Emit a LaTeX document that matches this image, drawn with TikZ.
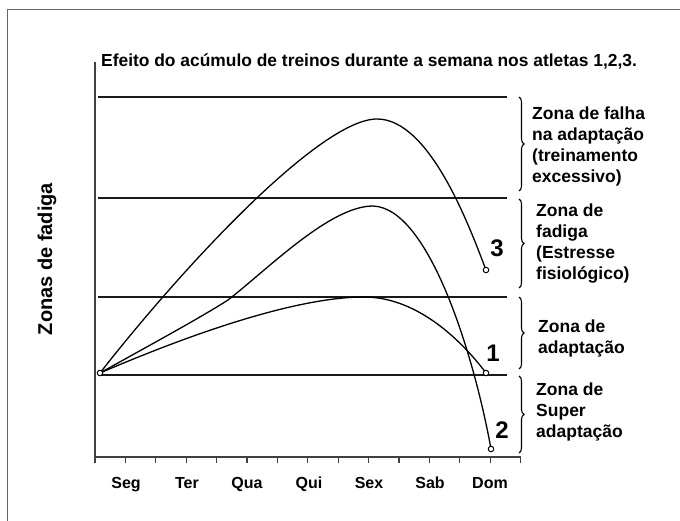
\documentclass[tikz,border=0pt]{standalone}
\usepackage{fontspec}
\setmainfont{Liberation Sans}
\usetikzlibrary{decorations.pathreplacing}
\begin{document}
\begin{tikzpicture}[x=1pt,y=-1pt,
  frameline/.style={line width=1pt, draw=black!60},
  zoneline/.style={line width=1.8pt, draw=black!90},
  axisline/.style={line width=2pt, draw=black!75},
  tickline/.style={line width=1.3pt, draw=black!75},
  curveline/.style={line width=1.3pt, draw=black},
  endpt/.style={circle, draw=black, fill=white, line width=1pt, inner sep=0pt, minimum size=5.5pt},
  zbrace/.style={decorate, decoration={brace, amplitude=5pt}, line width=1.1pt},
  zonetxt/.style={anchor=north west, align=left, inner sep=0pt, font=\fontsize{17.5}{21}\selectfont\bfseries},
  daylbl/.style={anchor=base, inner sep=0pt, font=\fontsize{16}{18}\selectfont\bfseries},
  numlbl/.style={anchor=base, inner sep=0pt, font=\fontsize{24}{26}\selectfont\bfseries},
  titletxt/.style={anchor=base west, inner sep=0pt, font=\fontsize{17.4}{20}\selectfont\bfseries},
  ylbl/.style={anchor=base, rotate=90, inner sep=0pt, font=\fontsize{20}{22}\selectfont\bfseries}
]
\useasboundingbox (0,0) rectangle (680,521);
\fill[white] (0,0) rectangle (680,521);
% frame (top and left only)
\draw[frameline] (7.5,521) -- (7.5,9.5) -- (680,9.5);

% axes
\coordinate (ytop) at (95,62);
\coordinate (orig) at (95,457);
\coordinate (xend) at (521,457);
\draw[axisline] (ytop) -- (95,463);
\draw[axisline] (orig) -- (xend);
\foreach \i in {0,...,14} {
  \draw[tickline] ({95+30.4*\i},457) -- ({95+30.4*\i},463);
}

% zone lines
\coordinate (l1a) at (98,97);  \coordinate (l1b) at (507,97);
\coordinate (l2a) at (98,198); \coordinate (l2b) at (507,198);
\coordinate (l3a) at (98,297); \coordinate (l3b) at (507,297);
\coordinate (l4a) at (98,375); \coordinate (l4b) at (507,375);
\draw[zoneline] (l1a) -- (l1b);
\draw[zoneline] (l2a) -- (l2b);
\draw[zoneline] (l3a) -- (l3b);
\draw[zoneline] (l4a) -- (l4b);

% title
\node[titletxt] (title) at (101,67) {Efeito do acúmulo de treinos durante a semana nos atletas 1,2,3.};

% y label
\node[ylbl] (ylab) at (52,259) {Zonas de fadiga};

% curves
\coordinate (s) at (100,373);
\coordinate (p3) at (377,119);
\coordinate (e3) at (486,270);
\coordinate (k2) at (228,300);
\coordinate (p2) at (373,206);
\coordinate (e2) at (491,449);
\coordinate (p1) at (364,297);
\coordinate (e1) at (486,373);

\draw[curveline] (s) .. controls (182,268) and (320,119) .. (p3)
                     .. controls (430,119) and (470,228) .. (e3);
\draw[curveline] (s) .. controls (150,345) and (200,318) .. (k2)
                     .. controls (268,269) and (330,206) .. (p2)
                     .. controls (430,208) and (475,360) .. (e2);
\draw[curveline] (s) .. controls (200,330) and (300,297) .. (p1)
                     .. controls (420,297) and (465,345) .. (e1);

\node[endpt] (ns) at (s) {};
\node[endpt] (n3) at (e3) {};
\node[endpt] (n2) at (e2) {};
\node[endpt] (n1) at (e1) {};

% curve numbers
\node[numlbl] (lab3) at (497,257) {3};
\node[numlbl] (lab1) at (493,361) {1};
\node[numlbl] (lab2) at (502,438) {2};

% braces
\draw[zbrace] (519,97) -- (519,191);
\draw[zbrace] (519,199) -- (519,288);
\draw[zbrace] (519,297) -- (519,369);
\draw[zbrace] (519,376) -- (519,453);

% zone texts
\node[zonetxt] (z1) at (532,107) {Zona de falha\\na adaptação\\(treinamento\\excessivo)};
\node[zonetxt] (z2) at (536,204) {Zona de\\fadiga\\(Estresse\\fisiológico)};
\node[zonetxt] (z3) at (538,320) {Zona de\\adaptação};
\node[zonetxt] (z4) at (536,383) {Zona de\\Super\\adaptação};

% day labels
\node[daylbl] (d1) at (126,488) {Seg};
\node[daylbl] (d2) at (187,488) {Ter};
\node[daylbl] (d3) at (247,488) {Qua};
\node[daylbl] (d4) at (309,488) {Qui};
\node[daylbl] (d5) at (369,488) {Sex};
\node[daylbl] (d6) at (430,488) {Sab};
\node[daylbl] (d7) at (490,488) {Dom};
\end{tikzpicture}
\end{document}
